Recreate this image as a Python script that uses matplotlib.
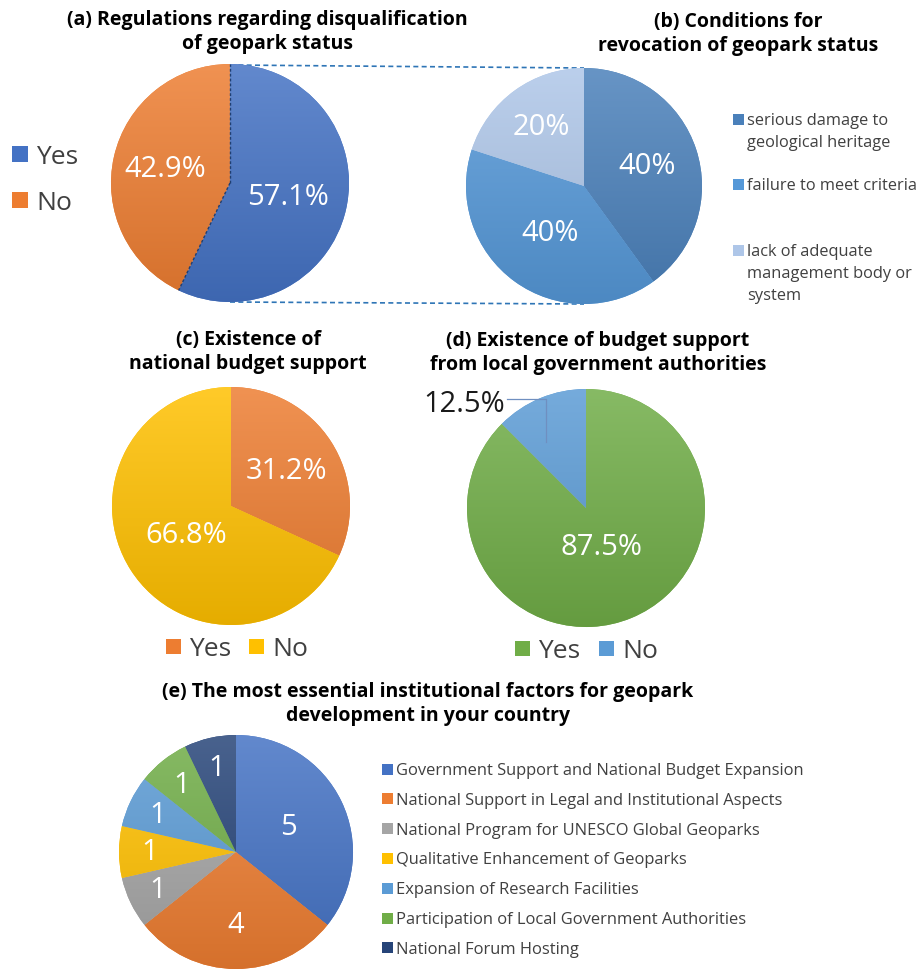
import numpy as np
import matplotlib
matplotlib.use("Agg")
import matplotlib.pyplot as plt
from matplotlib.colors import to_rgb
from matplotlib.patches import Rectangle

plt.rcParams["font.family"] = ["Open Sans", "DejaVu Sans"]

# (a) regulations regarding disqualification
a_labels = ["Yes", "No"]
a_values = [57.1, 42.9]
a_colors = ["#4472C4", "#ED7D31"]

# (b) conditions for revocation
b_labels = ["serious damage to\ngeological heritage", "failure to meet criteria",
            "lack of adequate\nmanagement body or\nsystem"]
b_values = [40, 40, 20]
b_colors = ["#4A80BA", "#5598D8", "#AEC6E8"]

# (c) national budget support
c_labels = ["Yes", "No"]
c_values = [31.2, 66.8]
c_colors = ["#ED7D31", "#FFC000"]

# (d) local government budget support
d_labels = ["Yes", "No"]
d_values = [87.5, 12.5]
d_colors = ["#70AD47", "#5B9BD5"]

# (e) essential institutional factors
e_labels = ["Government Support and National Budget Expansion",
            "National Support in Legal and Institutional Aspects",
            "National Program for UNESCO Global Geoparks",
            "Qualitative Enhancement of Geoparks",
            "Expansion of Research Facilities",
            "Participation of Local Government Authorities",
            "National Forum Hosting"]
e_values = [5, 4, 1, 1, 1, 1, 1]
e_colors = ["#4472C4", "#ED7D31", "#A5A5A5", "#FFC000", "#5B9BD5", "#70AD47", "#264478"]

H = 970
GREY = "#404040"


def Y(y):
    return H - y


def gradient(ax, wedge, color, cx, cy, r):
    rgb = np.array(to_rgb(color))
    top = rgb + (1 - rgb) * 0.16
    bot = rgb * 0.9
    t = np.linspace(0, 1, 128)[:, None, None]
    img = top * (1 - t) + bot * t
    im = ax.imshow(img, extent=(cx - r, cx + r, cy - r, cy + r), origin="upper",
                   aspect="auto", interpolation="bilinear", zorder=2)
    im.set_clip_path(wedge)


def draw_pie(ax, values, colors, cx, cy, r, texts, fracs, fs, tcolor="white"):
    wedges, _ = ax.pie(values, colors=colors, startangle=90, counterclock=False,
                       center=(cx, Y(cy)), radius=r, frame=True,
                       wedgeprops=dict(linewidth=0))
    for w, c in zip(wedges, colors):
        w.set_zorder(1)
        gradient(ax, w, c, cx, Y(cy), r)
    for w, t, f in zip(wedges, texts, fracs):
        if t is None:
            continue
        ang = np.deg2rad((w.theta1 + w.theta2) / 2)
        ax.text(cx + f * r * np.cos(ang), Y(cy) + f * r * np.sin(ang), t,
                ha="center", va="center", fontsize=fs, color=tcolor, zorder=5)
    return wedges


def square(ax, x, y, s, color):
    ax.add_patch(Rectangle((x - s / 2, Y(y) - s / 2), s, s, color=color, zorder=5, lw=0))


def title(ax, x, y, s):
    ax.text(x, Y(y), s, ha="center", va="center", fontsize=14, fontweight="bold",
            linespacing=1.3)


fig = plt.figure(figsize=(9.21, 9.70), dpi=100)
ax = fig.add_axes([0, 0, 1, 1])

# (a)
title(ax, 267, 32, "(a) Regulations regarding disqualification\nof geopark status")
wa = draw_pie(ax, a_values, a_colors, 230, 184, 119,
              [f"{v}%" for v in a_values], [0.5, 0.56], 21)
for ang in (wa[0].theta1, wa[0].theta2):
    a = np.deg2rad(ang)
    ax.plot([230, 230 + 119 * np.cos(a)], [Y(184), Y(184) + 119 * np.sin(a)],
            ls=(0, (2, 1.5)), color="#1F3F73", lw=1, zorder=4)
for lab, c, y in zip(a_labels, a_colors, [155, 201]):
    square(ax, 20, y, 16, c)
    ax.text(36, Y(y + 2), lab, ha="left", va="center", fontsize=19, color=GREY)

# (b)
title(ax, 738, 34, "(b) Conditions for\nrevocation of geopark status")
draw_pie(ax, b_values, b_colors, 584, 187, 118,
         [f"{v}%" for v in b_values], [0.56, 0.49, 0.62], 21)
for lab, c, y in zip(b_labels, b_colors, [120, 185, 251]):
    square(ax, 738, y, 11, c)
    ax.text(747, Y(y) + 7, lab, ha="left", va="top", fontsize=11.8, color=GREY,
            linespacing=1.5)

# connector lines between (a) and (b)
ax.plot([230, 584], [Y(66), Y(69)], ls=(0, (3, 2)), color="#2E75B6", lw=1.2, zorder=0)
ax.plot([230, 584], [Y(303), Y(305)], ls=(0, (3, 2)), color="#2E75B6", lw=1.2, zorder=0)

# (c)
title(ax, 248, 352, "(c) Existence of\nnational budget support")
draw_pie(ax, c_values, c_colors, 231, 507, 119,
         [f"{v}%" for v in c_values], [0.55, 0.45], 21)
for lab, c, x in zip(c_labels, c_colors, [173, 256]):
    square(ax, x, 647, 15, c)
    ax.text(x + 16, Y(649), lab, ha="left", va="center", fontsize=19, color=GREY)

# (d)
title(ax, 598, 353, "(d) Existence of budget support\nfrom local government authorities")
wd = draw_pie(ax, d_values, d_colors, 586, 509, 119,
              [f"{d_values[0]}%", None], [0.35, 0], 21)
ax.plot([507, 546, 546], [Y(400), Y(400), Y(443)], color="#6F8FC0", lw=0.9, zorder=4)
ax.text(505, Y(405), f"{d_values[1]}%", ha="right", va="center", fontsize=21,
        color="#1a1a1a")
for lab, c, x in zip(d_labels, d_colors, [522, 606]):
    square(ax, x, 649, 15, c)
    ax.text(x + 16, Y(651), lab, ha="left", va="center", fontsize=19, color=GREY)

# (e)
title(ax, 428, 704, "(e) The most essential institutional factors for geopark\ndevelopment in your country")
draw_pie(ax, e_values, e_colors, 236, 853, 117,
         [str(v) for v in e_values], [0.5, 0.62, 0.74, 0.74, 0.74, 0.74, 0.74], 21)
for i, (lab, c) in enumerate(zip(e_labels, e_colors)):
    y = 770 + i * 29.8
    square(ax, 387, y, 11, c)
    ax.text(396, Y(y + 1), lab, ha="left", va="center", fontsize=11.9, color=GREY)

ax.set_aspect("auto")
ax.set_xlim(0, 921)
ax.set_ylim(0, H)
ax.axis("off")
fig.savefig("out.png", dpi=100)
